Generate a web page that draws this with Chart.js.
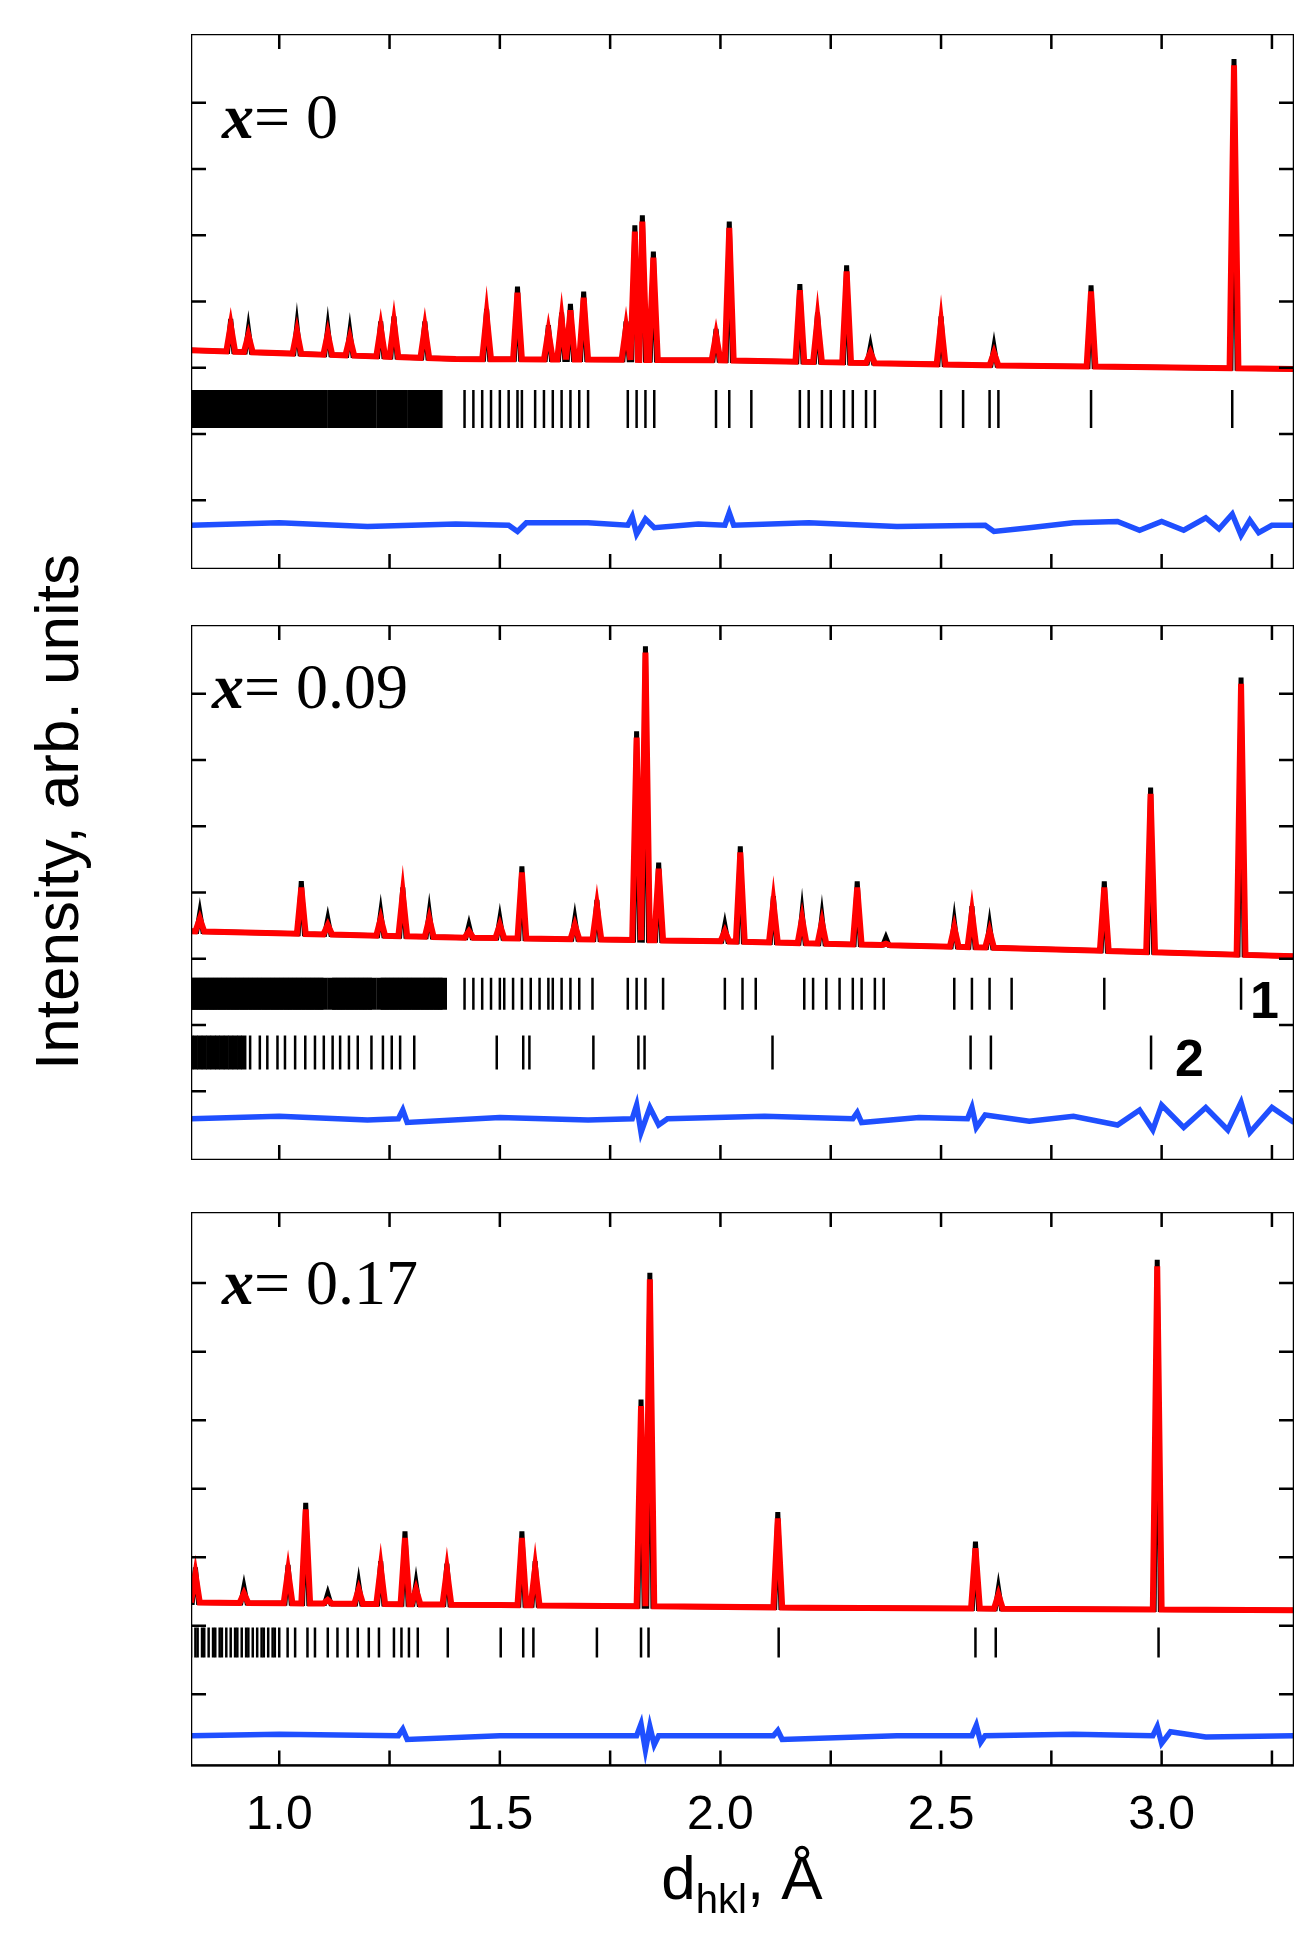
<!DOCTYPE html>
<html>
<head>
<meta charset="utf-8">
<script src="https://cdn.jsdelivr.net/npm/chart.js@4"></script>
<style>
  body { margin: 0; background: #fff; width: 1315px; height: 1959px; position: relative; overflow: hidden; font-family: "Liberation Sans", Arial, sans-serif; }
  .panel { position: absolute; left: 191px; width: 1103px; }
  .lab { position: absolute; font-family: "Liberation Serif", "Times New Roman", serif; font-size: 64px; color: #000; }
  .lab i { font-weight: bold; }
  .num { position: absolute; font-weight: bold; font-size: 52px; }
</style>
</head>
<body>
<div class="panel" style="top:34px;height:535px"><canvas id="p1"></canvas></div>
<div class="panel" style="top:625px;height:535px"><canvas id="p2"></canvas></div>
<div class="panel" style="top:1212px;height:655px"><canvas id="p3"></canvas></div>

<div class="lab" style="left:222px;top:80px"><i>x</i>= 0</div>
<div class="lab" style="left:212px;top:650px"><i>x</i>= 0.09</div>
<div class="lab" style="left:222px;top:1246px"><i>x</i>= 0.17</div>
<div class="num" style="left:1250px;top:970px">1</div>
<div class="num" style="left:1175px;top:1028px">2</div>

<div style="position:absolute;left:56px;top:812px;transform:translate(-50%,-50%) rotate(-90deg);font-size:62px;white-space:nowrap">Intensity, arb. units</div>
<div style="position:absolute;left:742px;top:1882px;transform:translate(-50%,-50%);font-size:62px;white-space:nowrap">d<sub style="font-size:40px">hkl</sub>, Å</div>

<script>
// x = 0 : peaks [d, top], background, difference, Bragg ticks
const peaks1 = [[0.89,195],[0.93,187],[1.04,190],[1.11,188],[1.16,185],[1.23,193],[1.26,197],[1.33,193],
  [1.47,203],[1.54,221],[1.61,190],[1.64,200],[1.66,207],[1.69,217],[1.786,193],[1.806,270],[1.823,278],
  [1.848,249],[1.99,187],[2.02,273],[2.18,223],[2.22,200],[2.286,238],[2.34,173],[2.50,197],[2.62,173],
  [2.84,222],[3.164,403]];
const base1 = [[0.8,175],[1.4,168],[2.0,167],[2.6,163],[3.3,160]];
const diff1 = [[0.8,35],[1.0,37],[1.2,34],[1.4,36],[1.52,35],[1.54,30],[1.56,37],[1.7,37],[1.79,35],[1.80,42],[1.81,28],[1.83,40],[1.85,33],
  [1.95,36],[2.01,35],[2.02,45],[2.03,35],[2.2,37],[2.4,34],[2.6,35],[2.62,30],[2.7,33],[2.8,37],[2.9,38],[2.95,31],[3.0,38],[3.05,31],[3.1,41],[3.13,32],[3.16,44],[3.18,27],[3.2,39],[3.22,29],[3.25,35],[3.3,35]];
const dense1 = [0.80,0.81,0.82,0.83,0.84,0.85,0.86,0.87,0.88,0.89,0.90,0.91,0.92,0.93,0.94,0.95,0.96,0.97,0.98,0.99,
  1.00,1.01,1.02,1.03,1.04,1.05,1.06,1.07,1.08,1.09,1.10,1.12,1.13,1.14,1.15,1.16,1.17,1.18,1.19,1.20,1.21,1.23,
  1.24,1.25,1.26,1.27,1.28,1.30,1.31,1.32,1.33,1.34,1.35,1.36];
const bragg1 = [1.42,1.44,1.46,1.48,1.50,1.52,1.54,1.55,1.58,1.60,1.62,1.64,1.66,1.68,1.70,
  1.79,1.81,1.83,1.85,1.99,2.02,2.07,2.18,2.20,2.23,2.25,2.28,2.30,2.33,2.35,2.50,2.55,2.61,2.63,2.84,3.16];

// x = 0.09
const peaks2 = [[0.82,193],[1.05,218],[1.11,188],[1.23,193],[1.28,213],[1.34,193],[1.43,183],[1.50,188],
  [1.55,230],[1.67,188],[1.72,203],[1.81,338],[1.83,406],[1.86,233],[2.01,183],[2.045,246],[2.12,206],
  [2.185,193],[2.23,190],[2.31,218],[2.375,173],[2.53,186],[2.57,198],[2.61,183],[2.87,218],[2.975,293],[3.18,381]];
const base2 = [[0.8,183],[1.4,178],[2.0,175],[2.6,170],[3.0,166],[3.3,163]];
const diff2 = [[0.8,33],[1.0,35],[1.2,32],[1.27,33],[1.28,40],[1.29,30],[1.5,34],[1.7,32],[1.80,33],[1.81,44],[1.82,22],[1.84,42],[1.86,28],[1.88,33],
  [2.1,35],[2.30,33],[2.31,38],[2.32,30],[2.45,34],[2.56,33],[2.57,42],[2.58,26],[2.6,36],[2.7,31],[2.8,35],[2.9,28],[2.95,40],[2.98,24],[3.0,44],
  [3.05,26],[3.1,42],[3.15,24],[3.18,46],[3.2,22],[3.25,42],[3.3,30]];
const dense2 = [0.80,0.81,0.82,0.83,0.84,0.85,0.86,0.87,0.88,0.89,0.90,0.91,0.92,0.93,0.94,0.95,0.96,0.97,0.98,0.99,
  1.00,1.01,1.02,1.03,1.04,1.05,1.06,1.07,1.08,1.09,1.10,1.12,1.13,1.14,1.15,1.16,1.17,1.18,1.19,1.20,1.21,1.23,
  1.24,1.25,1.26,1.27,1.28,1.29,1.30,1.31,1.32,1.33,1.34,1.35,1.36,1.37];
const bragg2 = [1.42,1.44,1.46,1.48,1.50,1.51,1.53,1.55,1.57,1.59,1.61,1.62,1.64,1.66,1.68,1.71,
  1.79,1.81,1.83,1.87,2.01,2.05,2.08,2.19,2.21,2.24,2.27,2.30,2.32,2.35,2.37,2.53,2.57,2.61,2.66,2.87,3.18];
const densePh2 = [0.80,0.81,0.82,0.83,0.84,0.85,0.86,0.87,0.88,0.89,0.90,0.91,0.92];
const braggPh2 = [0.934,0.956,0.973,0.996,1.013,1.036,1.059,1.081,1.101,1.121,1.138,1.158,1.178,1.209,1.235,
  1.255,1.274,1.306,1.493,1.553,1.567,1.712,1.814,1.828,2.118,2.567,2.613,2.976];

// x = 0.17
const peaks3 = [[0.81,148],[0.92,133],[1.02,150],[1.06,198],[1.11,128],[1.18,136],[1.23,153],[1.285,176],
  [1.31,136],[1.38,151],[1.55,176],[1.58,153],[1.82,278],[1.84,376],[2.13,191],[2.578,168],[2.63,132],[2.99,386]];
const base3 = [[0.8,126],[1.5,124],[2.2,122],[3.3,120]];
const diff3 = [[0.8,23],[1.0,24],[1.27,23],[1.28,28],[1.29,20],[1.5,23],[1.81,23],[1.82,32],[1.83,12],[1.84,30],[1.85,16],[1.86,23],
  [2.12,23],[2.13,27],[2.14,20],[2.4,23],[2.57,23],[2.58,31],[2.59,18],[2.6,23],[2.8,24],[2.98,23],[2.99,30],[3.0,17],[3.02,26],[3.1,22],[3.3,23]];
const dense3 = [0.80,0.81,0.815,0.825,0.83,0.84,0.85,0.855,0.865,0.87,0.88,0.89,0.90,0.905,0.915,0.925,0.93,
  0.94,0.95,0.96,0.965,0.975,0.985,0.99,1.00];
const bragg3 = [1.019,1.036,1.064,1.081,1.110,1.132,1.155,1.178,1.203,1.226,1.260,1.277,1.294,1.314,1.382,
  1.502,1.553,1.576,1.720,1.820,1.837,2.132,2.578,2.624,2.993];

const xTicks = [1.0, 1.5, 2.0, 2.5, 3.0];
const yMinor = [55, 108, 161, 214, 267, 320, 373];

// background level under a peak, between the read anchors
function baseAt(bg, d) {
  for (let i = 1; i < bg.length; i++) {
    if (d <= bg[i][0]) {
      const [x0, y0] = bg[i - 1], [x1, y1] = bg[i];
      return y0 + (y1 - y0) * (d - x0) / (x1 - x0);
    }
  }
  return bg[bg.length - 1][1];
}

function profile(peaks, bg, lift, hw) {
  const pts = bg.map(p => ({ x: p[0], y: p[1] }));
  for (const [d, top] of peaks) {
    pts.push({ x: d - hw, y: baseAt(bg, d - hw) }, { x: d, y: top + lift }, { x: d + hw, y: baseAt(bg, d + hw) });
  }
  return pts.sort((a, b) => a.x - b.x);
}

function tickSet(list, y, width, half) {
  return {
    type: 'scatter', data: list.map(d => ({ x: d, y: y })),
    pointStyle: 'line', rotation: 90, radius: half, borderColor: '#000', backgroundColor: '#000',
    borderWidth: width, order: 5
  };
}

// frame + inward ticks
const framePlugin = {
  id: 'frame',
  afterDraw(chart) {
    const { ctx, chartArea: a, scales } = chart;
    ctx.save();
    ctx.strokeStyle = '#000';
    ctx.lineWidth = 2.5;
    ctx.strokeRect(a.left, a.top, a.right - a.left, a.bottom - a.top);
    ctx.beginPath();
    for (let v = 1.0; v <= 3.26; v += 0.25) {
      const x = scales.x.getPixelForValue(v);
      ctx.moveTo(x, a.top); ctx.lineTo(x, a.top + 15);
      ctx.moveTo(x, a.bottom); ctx.lineTo(x, a.bottom - 15);
    }
    for (const v of yMinor) {
      const y = scales.y.getPixelForValue(v);
      ctx.moveTo(a.left, y); ctx.lineTo(a.left + 15, y);
      ctx.moveTo(a.right, y); ctx.lineTo(a.right - 15, y);
    }
    ctx.stroke();
    ctx.restore();
  }
};

function makePanel(id, peaks, bg, diff, ticks, showX) {
  const datasets = [
    { type: 'line', data: profile(peaks, bg, 0, 0.01), borderColor: '#ff0000', borderWidth: 6, pointRadius: 0, order: 1 },
    { type: 'line', data: profile(peaks, bg, 5, 0.007), borderColor: '#000', borderWidth: 5, pointRadius: 0, order: 2 },
    { type: 'line', data: diff.map(p => ({ x: p[0], y: p[1] })), borderColor: '#1f4fff', borderWidth: 5.5, pointRadius: 0, order: 3 }
  ].concat(ticks);
  new Chart(document.getElementById(id), {
    type: 'line',
    data: { datasets },
    options: {
      responsive: true, maintainAspectRatio: false, animation: false,
      layout: { padding: 0, autoPadding: false },
      plugins: { legend: { display: false }, tooltip: { enabled: false } },
      scales: {
        x: {
          type: 'linear', min: 0.8, max: 3.3, display: showX,
          grid: { display: false, drawTicks: false }, border: { display: false },
          afterBuildTicks: s => { s.ticks = xTicks.map(v => ({ value: v })); },
          ticks: { color: '#000', padding: 22, font: { size: 48, family: 'Liberation Sans' }, callback: v => v.toFixed(1) }
        },
        y: { min: 0, max: 428, display: false }
      }
    },
    plugins: [framePlugin]
  });
}

makePanel('p1', peaks1, base1, diff1, [tickSet(dense1, 128, 9, 19), tickSet(bragg1, 128, 2.5, 19)], false);
makePanel('p2', peaks2, base2, diff2, [tickSet(dense2, 133, 9, 16), tickSet(bragg2, 133, 2.5, 16),
  tickSet(densePh2, 86, 5, 17), tickSet(braggPh2, 86, 2.5, 17)], false);
makePanel('p3', peaks3, base3, diff3, [tickSet(dense3, 95, 2.5, 15), tickSet(bragg3, 95, 2.5, 15)], true);
</script>
</body>
</html>
